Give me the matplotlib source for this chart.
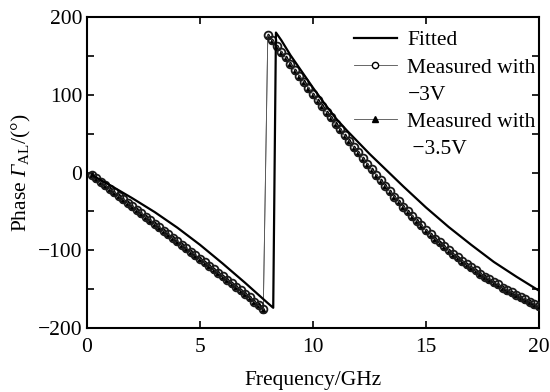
import numpy as np
import matplotlib
matplotlib.use("Agg")
import matplotlib.pyplot as plt
from matplotlib.lines import Line2D

plt.rcParams['font.family'] = ['Liberation Serif', 'DejaVu Serif']
plt.rcParams['mathtext.fontset'] = 'custom'
plt.rcParams['mathtext.rm'] = 'Liberation Serif'
plt.rcParams['mathtext.it'] = 'Liberation Serif:italic'
# bf slot used for the italic capital Gamma (mathtext forces Greek caps upright in 'it')
plt.rcParams['mathtext.bf'] = 'Liberation Serif:italic'
plt.rcParams['font.size'] = 15

# measured sweep, 0.2 GHz step
freq = np.round(np.arange(0.2, 20.01, 0.2), 1)

meas_3v = [
    -3, -7, -12, -16, -21, -25, -30, -34, -39, -43,
    -48, -52, -57, -61, -66, -70, -75, -79, -84, -88,
    -93, -97, -102, -106, -111, -115, -120, -124, -129, -133,
    -138, -142, -147, -151, -156, -160, -166, -171, -176,
    177, 170, 163, 155, 148, 140, 132, 124, 117, 109,
    101, 93, 86, 78, 71, 63, 56, 48, 41, 33,
    26, 19, 11, 4, -3, -10, -17, -24, -31, -37,
    -44, -50, -56, -62, -68, -74, -79, -85, -90, -95,
    -100, -105, -109, -114, -118, -122, -126, -130, -134, -137,
    -141, -144, -148, -151, -154, -157, -160, -163, -166, -169,
    -172,
]

meas_35v = [
    -3, -8, -12, -17, -21, -26, -30, -35, -39, -44,
    -48, -53, -57, -62, -66, -71, -75, -80, -84, -89,
    -93, -98, -102, -107, -111, -116, -120, -125, -129, -134,
    -138, -143, -147, -152, -156, -161, -166, -171, -177,
    176, 169, 162, 154, 147, 139, 131, 123, 116, 108,
    100, 92, 85, 77, 70, 62, 55, 47, 40, 32,
    25, 18, 10, 3, -4, -11, -18, -25, -32, -38,
    -45, -51, -57, -63, -69, -75, -80, -86, -91, -96,
    -101, -106, -110, -115, -119, -123, -127, -131, -135, -138,
    -142, -145, -149, -152, -155, -158, -161, -164, -167, -170,
    -173,
]

fit_freq = [0.2, 1, 2, 3, 4, 5, 6, 7, 7.5, 8, 8.24,
            8.36, 8.6, 9, 9.5, 10, 10.5, 11, 11.5, 12, 12.5,
            13, 13.5, 14, 15, 16, 17, 18, 19, 20]
fit_phase = [-3, -16, -33, -51, -71, -93, -117, -142, -155, -168, -174,
             180, 170, 151, 130, 109, 89, 70, 54, 39, 24,
             10, -4, -18, -45, -70, -93, -115, -134, -152]

fig = plt.figure(figsize=(5.5, 3.92), dpi=100)
ax = fig.add_axes([87 / 550, 1 - 328 / 392, 452 / 550, 311 / 392])

ax.plot(freq, meas_35v, color='0.35', lw=0.6, marker='^', ms=3.5,
        mfc='black', mec='black', zorder=2)
ax.plot(freq, meas_3v, color='0.35', lw=0.6, marker='o', ms=5.6,
        mfc='none', mec='0.1', mew=1.3, zorder=3)
ax.plot(fit_freq, fit_phase, color='black', lw=1.6, zorder=4)

ax.set_xlim(0, 20)
ax.set_ylim(-200, 200)
ax.set_xticks([0, 5, 10, 15, 20])
ax.set_yticks([-200, -100, 0, 100, 200])
ax.set_yticks([-150, -50, 50, 150], minor=True)
ax.tick_params(which='both', direction='in', top=True, right=True,
               length=5, width=1.2, labelsize=15.5)
ax.tick_params(axis='x', pad=7)
for s in ax.spines.values():
    s.set_linewidth(1.5)

ax.set_xlabel('Frequency/GHz', fontsize=15.5, labelpad=10)
ax.set_ylabel(r'Phase $\mathbf{Γ}_{\rm AL}$/(°)', fontsize=15.5, labelpad=3)

blank = Line2D([], [], linestyle='none')
handles = [
    Line2D([], [], color='black', lw=1.6),
    Line2D([], [], color='0.3', lw=0.6, marker='o', ms=4.5, mfc='white', mec='black'),
    blank,
    Line2D([], [], color='0.3', lw=0.6, marker='^', ms=4, mfc='black', mec='black'),
    blank,
]
labels = ['Fitted', 'Measured with', '\u22123V', 'Measured with', ' \u22123.5V']
ax.legend(handles, labels, loc='upper right', frameon=False, fontsize=15.5,
          handlelength=2.0, handletextpad=0.5, labelspacing=0.33,
          borderaxespad=0.0, bbox_to_anchor=(1.012, 0.985))

fig.savefig('out.png', dpi=100)
